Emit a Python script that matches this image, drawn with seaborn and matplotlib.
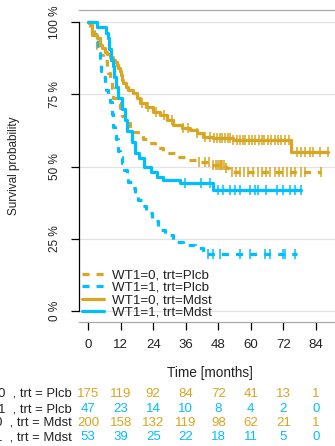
import numpy as np
import pandas as pd
import matplotlib
matplotlib.use("Agg")
import matplotlib.pyplot as plt
import matplotlib.transforms as mtransforms
from matplotlib.lines import Line2D
import seaborn as sns

sns.set_theme(style="white")
plt.rcParams['font.family'] = ['Liberation Sans', 'DejaVu Sans']

GOLD = '#DAA520'
BLUE = '#00BFFF'

# Kaplan-Meier step curves (time in months, survival in %)
plcb0_t = [0, 0.6, 1.5, 2.5, 3.4, 4.3, 5.5, 6.8, 7.4, 8, 8.6, 9.2, 10.4, 11.7, 12.6, 13.5,
           15.4, 17, 18.4, 20.2, 22.1, 24.6, 27.7, 32, 36.3, 40, 44.9, 51, 52, 86.1]
plcb0_s = [100, 97.9, 95.5, 93.3, 91, 88.7, 86.4, 84.1, 82.3, 80.6, 77.2, 73.7, 72, 70.2, 67.6, 65,
           63.2, 62, 60.9, 59.4, 58, 56.3, 54.6, 53.4, 52.2, 51.7, 50.5, 49.4, 48.1, 48.1]
plcb0_cens = [41, 43, 44.5, 46, 47, 48, 48.5, 49, 49.5, 50, 51, 53, 54.5, 56, 57.5, 59, 61, 62.5,
              64, 65.5, 67, 69, 70.5, 72, 73.5, 75, 76.5, 78.5, 80, 86]

plcb1_t = [0, 1.5, 2.3, 3.0, 3.7, 4.3, 4.9, 5.5, 6.1, 6.7, 7.3, 8.0, 8.6, 9.2, 9.8, 10.4, 11.0,
           11.6, 12.3, 13.2, 14.2, 14.8, 16.0, 17.2, 18.4, 20.0, 21.5, 23.4, 25.8, 28.3, 31.4,
           35.0, 39.4, 42.4, 77.0]
plcb1_s = [100, 97.9, 95.7, 93.6, 89.4, 85.1, 83.0, 80.9, 78.7, 76.6, 74.5, 72.3, 68.1, 63.8,
           61.7, 59.6, 55.3, 53.2, 51.1, 48.9, 46.8, 44.7, 42.6, 40.4, 38.3, 36.2, 34.0, 31.0,
           28.0, 26.3, 24.0, 23.0, 21.7, 19.8, 19.8]
plcb1_cens = [44.2, 46, 48.7, 56, 59.7, 65.2, 67, 71.8, 72.6, 76.3]

mdst0_t = [0, 0.4, 1.25, 2, 3.1, 4.3, 5.2, 6.2, 7, 8, 9, 9.8, 10.5, 11.1, 11.6, 12, 12.5, 12.9,
           13.8, 14.8, 16.6, 17.9, 19.1, 21.5, 24, 26.5, 28.9, 31.4, 34.5, 37.5, 40, 42.4, 46.1,
           53.5, 75, 88.6]
mdst0_s = [100, 99.5, 96.7, 95.5, 94.3, 92, 91, 89.7, 89, 88, 87, 86.3, 85, 84, 83, 81.7, 80,
           78.8, 77.5, 76.5, 75.3, 73.6, 71.9, 70.7, 69, 67.8, 66.1, 64.4, 63.2, 62.6, 61.5, 60.3,
           59.8, 59.2, 55.1, 55.1]
mdst0_cens = [20, 22, 25, 28, 31, 35, 37, 40, 43, 45, 46.5, 47.5, 48.5, 49.5, 50.5, 51.5, 52.5,
              53.5, 55, 56, 57, 58, 59.5, 60.5, 61.5, 63, 64, 65, 66.5, 67.5, 69, 70, 71, 72.5,
              74, 77, 78.5, 80, 82, 83, 85.5, 88.6]

mdst1_t = [0, 3.1, 6.5, 7.2, 7.8, 8.5, 9.1, 9.7, 10.3, 11.0, 12.5, 13.5, 14.2, 16.0, 17.2, 18.8,
           20.5, 23.0, 25.4, 27.6, 33.8, 46.2, 78.7]
mdst1_s = [100, 98.1, 96.2, 94.3, 90.6, 86.8, 84.9, 81.1, 77.4, 73.6, 69.8, 66.0, 62.3, 58.5,
           54.7, 52.8, 49.9, 48.0, 46.2, 45.3, 44.2, 41.9, 41.9]
mdst1_cens = [35.7, 41.8, 44.9, 48, 49.8, 52.3, 54.1, 55.9, 59.7, 61.5, 62.7, 65.8, 69.5, 71.9,
              74.4, 76.3, 78.7]

legend_labels = ['WT1=0, trt=Plcb', 'WT1=1, trt=Plcb', 'WT1=0, trt=Mdst', 'WT1=1, trt=Mdst']
risk_labels = ['WT1=0  , trt = Plcb', 'WT1=1  , trt = Plcb', 'WT1=0  , trt = Mdst', 'WT1=1  , trt = Mdst']
risk_times = [0, 12, 24, 36, 48, 60, 72, 84]
risk_plcb0 = [175, 119, 92, 84, 72, 41, 13, 1]
risk_plcb1 = [47, 23, 14, 10, 8, 4, 2, 0]
risk_mdst0 = [200, 158, 132, 119, 98, 62, 21, 1]
risk_mdst1 = [53, 39, 25, 22, 18, 11, 5, 0]

groups = [
    (plcb0_t, plcb0_s, plcb0_cens, GOLD, True),
    (plcb1_t, plcb1_s, plcb1_cens, BLUE, True),
    (mdst0_t, mdst0_s, mdst0_cens, GOLD, False),
    (mdst1_t, mdst1_s, mdst1_cens, BLUE, False),
]
risk_rows = [risk_plcb0, risk_plcb1, risk_mdst0, risk_mdst1]
row_colors = [GOLD, BLUE, GOLD, BLUE]

fig = plt.figure(figsize=(3.35, 4.46), dpi=100)
ax = fig.add_axes([79 / 335, 1 - 322 / 446, 262 / 335, 312 / 446])

for gy in [0, 0.25, 0.5, 0.75, 1.0]:
    ax.axhline(gy, color='#E3E3E3', lw=0.9, zorder=0)

dash = (0, (2.2, 2.2))
for t, s, cens, col, dashed in groups:
    df = pd.DataFrame({'time': t, 'surv': np.array(s) / 100})
    sns.lineplot(data=df, x='time', y='surv', estimator=None, sort=False,
                 drawstyle='steps-post', color=col, lw=2.3,
                 linestyle=dash if dashed else '-', ax=ax)
    idx = np.searchsorted(t, cens, side='right') - 1
    cy = np.array(s)[np.clip(idx, 0, len(s) - 1)] / 100
    ax.plot(cens, cy, ls='none', marker='|', ms=6.5, mew=1.1, color=col)

ax.set_xlim(-3.4, 93.3)
ax.set_ylim(-0.038, 1.0415)
ax.set_xticks(risk_times)
ax.set_yticks([0, 0.25, 0.5, 0.75, 1.0])
ax.set_yticklabels(['0 %', '25 %', '50 %', '75 %', '100 %'], rotation=90, va='center')
ax.tick_params(axis='both', length=6, width=0.9, color='black',
               labelcolor='#222222', direction='out')
ax.tick_params(axis='y', pad=7, labelsize=8.5)
ax.tick_params(axis='x', pad=6, labelsize=9.5)
ax.tick_params(left=True, bottom=True)

for sp in ['top', 'right', 'bottom']:
    ax.spines[sp].set_color('#AAAAAA')
    ax.spines[sp].set_linewidth(0.9)
ax.spines['left'].set_color('black')
ax.spines['left'].set_linewidth(0.9)
ax.spines['left'].set_bounds(0, 1)

ax.set_xlabel('Time [months]', fontsize=9.8, color='#222222')
ax.set_ylabel('Survival probability', fontsize=8.5, color='#222222')
ax.xaxis.set_label_coords(0.5, -0.14)
ax.yaxis.set_label_coords(-0.225, 0.5)

handles = [
    Line2D([], [], color=GOLD, lw=2.3, linestyle=dash),
    Line2D([], [], color=BLUE, lw=2.3, linestyle=dash),
    Line2D([], [], color=GOLD, lw=2.3),
    Line2D([], [], color=BLUE, lw=2.3),
]
ax.legend(handles, legend_labels, loc='lower left', bbox_to_anchor=(0.0, 0.0),
          frameon=False, fontsize=9.6, handlelength=1.65, handletextpad=0.6,
          labelspacing=0.0, borderaxespad=0.1, borderpad=0.15, labelcolor='#222222')

trans = mtransforms.blended_transform_factory(ax.transData, fig.transFigure)
row_y = [1 - 394 / 446, 1 - 409 / 446, 1 - 422.5 / 446, 1 - 437 / 446]
for label, vals, col, yy in zip(risk_labels, risk_rows, row_colors, row_y):
    fig.text(72 / 335, yy, label, ha='right', va='center', fontsize=9.4, color='#222222')
    for tt, v in zip(risk_times, vals):
        ax.text(tt, yy, str(v), transform=trans, ha='center', va='center',
                fontsize=9.5, color=col, clip_on=False)

fig.savefig('out.png', dpi=100)
